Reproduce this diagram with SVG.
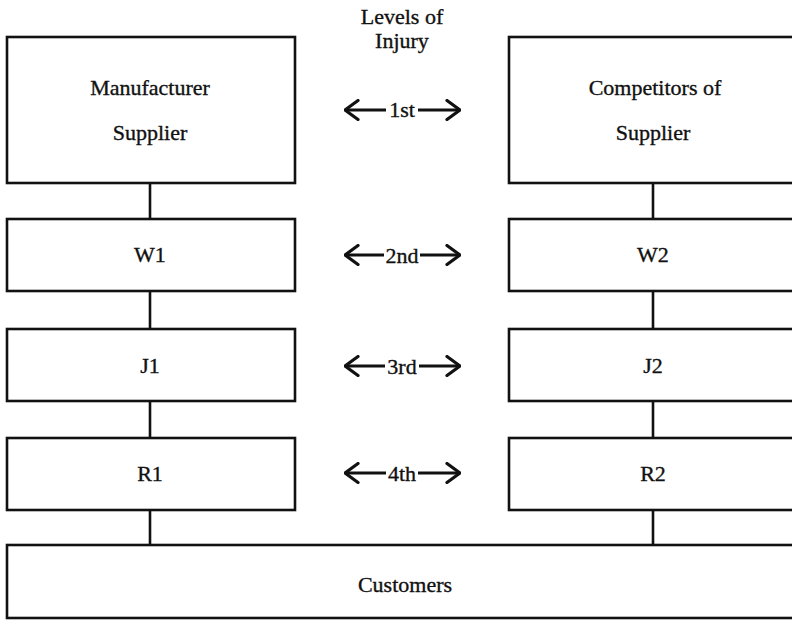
<svg xmlns="http://www.w3.org/2000/svg" width="792" height="620" viewBox="0 0 792 620">
<style>
.box{fill:#fff;stroke:#111;stroke-width:2.6}
.con{stroke:#111;stroke-width:2.6;fill:none}
.arr{stroke:#111;stroke-width:2.8;fill:none}
text{font-family:"Liberation Serif","Times New Roman",serif;font-size:22px;fill:#111;stroke:#111;stroke-width:0.35;text-anchor:middle}
</style>
<defs>
<marker id="chev" viewBox="0 0 16 22" refX="15" refY="11" markerWidth="16" markerHeight="22" markerUnits="userSpaceOnUse" orient="auto-start-reverse">
<path d="M2,1.5 L15,11 L2,20.5" fill="none" stroke="#111" stroke-width="3.2" stroke-linecap="round" stroke-linejoin="round"/>
</marker>
</defs>
<rect width="792" height="620" fill="#fff"/>
<g id="connectors">
<line class="con" x1="150" y1="183" x2="150" y2="219"/>
<line class="con" x1="150" y1="291" x2="150" y2="329"/>
<line class="con" x1="150" y1="401" x2="150" y2="438"/>
<line class="con" x1="150" y1="510" x2="150" y2="545"/>
<line class="con" x1="653" y1="183" x2="653" y2="219"/>
<line class="con" x1="653" y1="291" x2="653" y2="329"/>
<line class="con" x1="653" y1="401" x2="653" y2="438"/>
<line class="con" x1="653" y1="510" x2="653" y2="545"/>
<line class="arr" x1="345" y1="110" x2="386" y2="110" marker-start="url(#chev)"/>
<line class="arr" x1="418" y1="110" x2="460" y2="110" marker-end="url(#chev)"/>
<line class="arr" x1="345" y1="255" x2="384" y2="255" marker-start="url(#chev)"/>
<line class="arr" x1="420" y1="255" x2="460" y2="255" marker-end="url(#chev)"/>
<line class="arr" x1="345" y1="366" x2="385" y2="366" marker-start="url(#chev)"/>
<line class="arr" x1="419" y1="366" x2="460" y2="366" marker-end="url(#chev)"/>
<line class="arr" x1="345" y1="473" x2="386" y2="473" marker-start="url(#chev)"/>
<line class="arr" x1="418" y1="473" x2="460" y2="473" marker-end="url(#chev)"/>
</g>
<g id="levels-title">
<text x="402" y="24">Levels of</text>
<text x="402" y="48">Injury</text>
</g>
<g id="level1"><text x="402" y="117">1st</text></g>
<g id="level2"><text x="402" y="263">2nd</text></g>
<g id="level3"><text x="402" y="374">3rd</text></g>
<g id="level4"><text x="402" y="481">4th</text></g>
<g id="manufacturer">
<rect class="box" x="7" y="37" width="288" height="146"/>
<text x="150" y="95">Manufacturer</text>
<text x="150" y="140">Supplier</text>
</g>
<g id="competitors">
<rect class="box" x="509" y="37" width="300" height="146"/>
<text x="655" y="95">Competitors of</text>
<text x="653" y="140">Supplier</text>
</g>
<g id="w1"><rect class="box" x="7" y="219" width="288" height="72"/><text x="150" y="262">W1</text></g>
<g id="w2"><rect class="box" x="509" y="219" width="300" height="72"/><text x="653" y="262">W2</text></g>
<g id="j1"><rect class="box" x="7" y="329" width="288" height="72"/><text x="150" y="373">J1</text></g>
<g id="j2"><rect class="box" x="509" y="329" width="300" height="72"/><text x="653" y="373">J2</text></g>
<g id="r1"><rect class="box" x="7" y="438" width="288" height="72"/><text x="150" y="481">R1</text></g>
<g id="r2"><rect class="box" x="509" y="438" width="300" height="72"/><text x="653" y="481">R2</text></g>
<g id="customers"><rect class="box" x="7" y="545" width="800" height="73"/><text x="405" y="592">Customers</text></g>
</svg>
